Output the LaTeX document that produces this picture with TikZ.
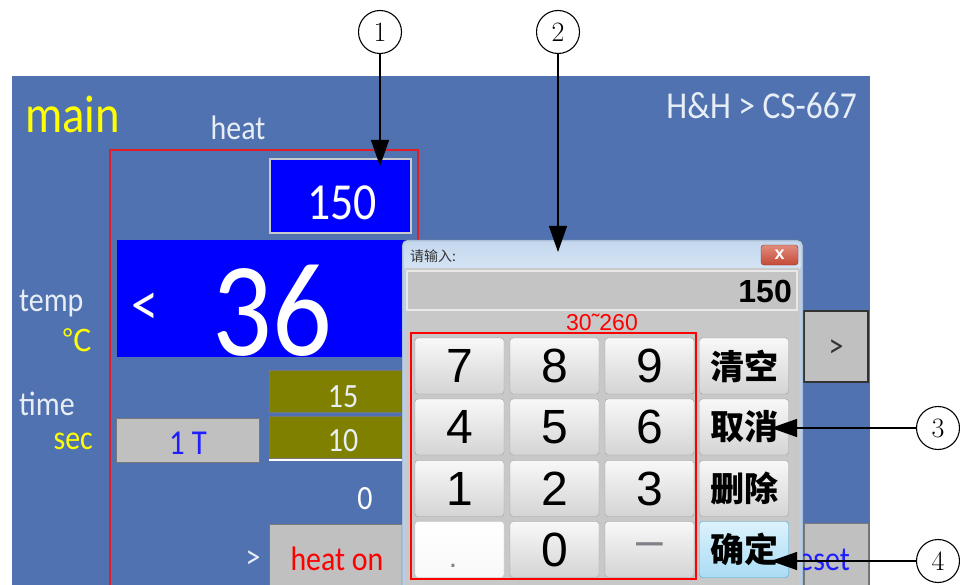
\documentclass[tikz,border=0pt]{standalone}
\usepackage{fontspec}
\usepackage{tikz}
\usetikzlibrary{arrows.meta}

\newfontfamily\guifont[FakeStretch=0.88]{Carlito}
\newfontfamily\keyfont{Liberation Sans}
\newfontfamily\cjkfont{Noto Sans CJK SC}
\newcommand{\fs}[1]{\fontsize{#1}{#1}\selectfont}

\definecolor{panelblue}{RGB}{81,114,176}
\definecolor{screenblue}{RGB}{0,0,255}
\definecolor{olivebox}{RGB}{128,128,0}
\definecolor{guigray}{RGB}{192,192,192}
\definecolor{guitext}{RGB}{232,238,246}
\definecolor{guiyellow}{RGB}{255,255,0}
\definecolor{guiblue}{RGB}{30,30,255}
\definecolor{markred}{RGB}{225,30,40}
\definecolor{btnedge}{RGB}{120,120,120}
\definecolor{boxedge}{RGB}{200,200,205}
\definecolor{framelight}{RGB}{185,206,230}
\definecolor{framedark}{RGB}{70,80,100}
\definecolor{titletop}{RGB}{196,216,238}
\definecolor{titlebot}{RGB}{214,228,244}
\definecolor{bodygray}{RGB}{200,200,200}
\definecolor{inputgray}{RGB}{196,196,196}
\definecolor{inputedge}{RGB}{232,232,232}
\definecolor{keytop}{RGB}{248,248,248}
\definecolor{keybot}{RGB}{212,212,212}
\definecolor{keyedge}{RGB}{160,160,160}
\definecolor{oktop}{RGB}{220,242,252}
\definecolor{okbot}{RGB}{170,220,245}
\definecolor{okedge}{RGB}{60,170,220}
\definecolor{closetop}{RGB}{226,140,125}
\definecolor{closebot}{RGB}{196,74,56}
\definecolor{closeedge}{RGB}{130,50,40}
\definecolor{dotgray}{RGB}{128,128,136}

\begin{document}
\begin{tikzpicture}[x=1pt,y=-1pt,>={Triangle[width=18pt,length=26pt]},
    lbl/.style={inner sep=0pt},
    key/.style={draw=keyedge,rounded corners=3pt,top color=keytop,bottom color=keybot,
        minimum width=89pt,minimum height=56pt,inner sep=0pt,font=\keyfont\fs{48}},
    cnkey/.style={key,font=\cjkfont\bfseries\fs{34}}]
            \useasboundingbox[fill=white] (0,0) rectangle (960,585);
            \fill[panelblue] (12,76) rectangle (870,585);
            % main screen
            \draw[markred,line width=1.5pt] (110,585) -- (110,150) -- (418,150) -- (418,585);
            \node[lbl,font=\guifont\fs{53},text=guiyellow,anchor=base west] (title) at (25,133) {main};
            \node[lbl,font=\guifont\fs{34},text=guitext,anchor=base] (heatlbl) at (238,140) {heat};
            \node[lbl,font=\guifont\fs{38},text=guitext,anchor=base east] (model) at (857,119) {H\&H > CS-667};
            \draw[fill=screenblue,draw=boxedge,line width=2.5pt] (270,159) rectangle (411,233);
            \node[lbl,font=\guifont\fs{52},text=white] (setval) at (342,203) {150};
            \fill[screenblue] (117,240) rectangle (410,357);
            \node[lbl,font=\guifont\fs{62},text=white] (lt) at (145,309) {<};
            \node[lbl,font=\guifont\fs{134},text=white] (pv) at (272,311) {36};
            \node[lbl,font=\guifont\fs{34},text=guitext,anchor=base west] (templbl) at (19,311) {temp};
            \node[lbl,font=\cjkfont\fs{30},text=guiyellow] (unitc) at (77,340) {℃};
            \node[lbl,font=\guifont\fs{34},text=guitext,anchor=base west] (timelbl) at (19,415) {time};
            \node[lbl,font=\guifont\fs{34},text=guiyellow,anchor=base east] (unitsec) at (93,449) {sec};
            \draw[fill=guigray,draw=btnedge] (116,418) rectangle (259,462);
            \node[lbl,font=\guifont\fs{35},text=guiblue] (cycle) at (188,443) {1 T};
            \draw[fill=olivebox,draw=btnedge] (269,370) rectangle (410,412);
            \node[lbl,font=\guifont\fs{34},text=guitext] (t15) at (343,397) {15};
            \draw[fill=olivebox,draw=btnedge] (269,416) rectangle (410,458);
            \draw[white,line width=1.5pt] (269,460) -- (410,460);
            \node[lbl,font=\guifont\fs{34},text=guitext] (t10) at (343,441) {10};
            \node[lbl,font=\guifont\fs{34},text=white] (count) at (365,499) {0};
            \node[lbl,font=\guifont\fs{34},text=guitext] (gt) at (253,560) {>};
            \draw[fill=guigray,draw=btnedge] (269,524) rectangle (410,590);
            \node[lbl,font=\guifont\fs{34},text=red,anchor=base] (heaton) at (337,570) {heat on};
            \draw[fill=guigray,draw=black!80,line width=1.5pt] (804,311) rectangle (868,382);
            \node[lbl,font=\guifont\fs{34},text=black!80] (next) at (836,349) {>};
            \draw[fill=guigray,draw=btnedge] (804,523) rectangle (868,590);
            \node[lbl,font=\guifont\fs{34},text=guiblue,anchor=base east] (reset) at (850,570) {reset};
            % input window
            \draw[fill=framelight,draw=framedark,rounded corners=5pt] (402,590) -- (402,240) -- (803,240) -- (803,590);
            \shade[top color=titletop,bottom color=titlebot,rounded corners=4pt] (404,242) rectangle (801,270);
            \node[lbl,font=\cjkfont\fs{14},text=black!80,anchor=west] (caption) at (410,256) {请输入:};
            \node[draw=closeedge,rounded corners=3pt,top color=closetop,bottom color=closebot,minimum width=37pt,
                minimum height=20pt,inner sep=0pt,font=\keyfont\bfseries\fs{18},text=white] (close) at (779.5,255) {x};
            \fill[bodygray] (406,268) rectangle (799,585);
            \draw[fill=inputgray,draw=inputedge,line width=1.5pt] (407,271) rectangle (797,310);
            \node[lbl,font=\keyfont\bfseries\fs{32},anchor=base east] (input) at (792,302) {150};
            \node[lbl,font=\keyfont\fs{23},text=red] (range) at (602,322) {30˜260};
            \draw[red,line width=2.5pt] (411,333) rectangle (696,579);
            \node[key] (k7) at (459.5,366) {7};
            \node[key] (k8) at (554.5,366) {8};
            \node[key] (k9) at (649.5,366) {9};
            \node[cnkey] (kclear) at (744,366) {清空};
            \node[key] (k4) at (459.5,427) {4};
            \node[key] (k5) at (554.5,427) {5};
            \node[key] (k6) at (649.5,427) {6};
            \node[cnkey] (kcancel) at (744,427) {取消};
            \node[key] (k1) at (459.5,488.5) {1};
            \node[key] (k2) at (554.5,488.5) {2};
            \node[key] (k3) at (649.5,488.5) {3};
            \node[cnkey] (kdel) at (744,488.5) {删除};
            \node[key,top color=white,bottom color=keytop,draw=keyedge!60] (kdot) at (459.5,549.5) {};
            \node[lbl,font=\keyfont\fs{30},text=dotgray] (dot) at (453,566) {.};
            \node[key] (k0) at (554.5,549.5) {0};
            \node[key,text=dotgray] (kminus) at (649.5,549.5) {–};
            \node[cnkey,draw=okedge,top color=oktop,bottom color=okbot] (kok) at (744,549.5) {确定};
            % callouts
            \begin{scope}[every node/.style={circle,draw=black,line width=1.1pt,minimum size=43pt,inner sep=0pt,font=\fs{28}}]
                \node (n1) at (380,32) {1};
                \node (n2) at (558,32) {2};
                \node (n3) at (938,428) {3};
                \node (n4) at (938,561) {4};
            \end{scope}
            \coordinate (p1) at (380,166);
            \coordinate (p2) at (558,252);
            \coordinate (p3) at (771,428);
            \coordinate (p4) at (771,561);
            \draw[line width=1.1pt] (n1) edge [->] (p1);
            \draw[line width=1.1pt] (n2) edge [->] (p2);
            \draw[line width=1.1pt] (n3) edge [->] (p3);
            \draw[line width=1.1pt] (n4) edge [->] (p4);
        \end{tikzpicture}
\end{document}
